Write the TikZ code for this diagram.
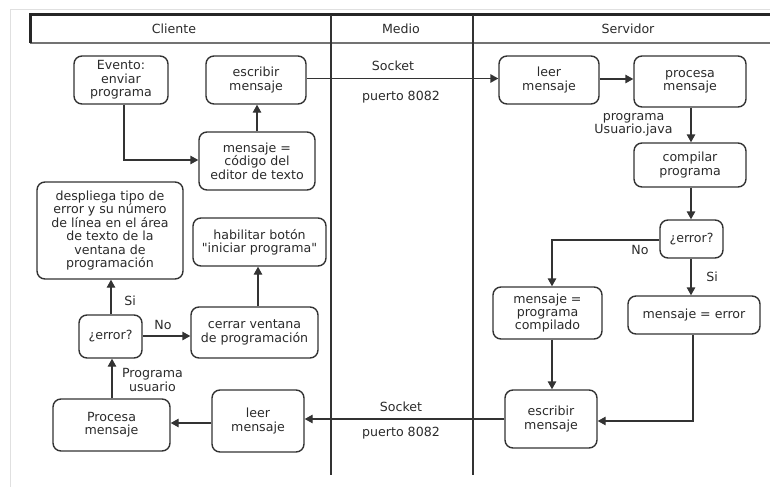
\documentclass[tikz,border=0pt]{standalone}
\usepackage{fontspec}
\setmainfont{DejaVu Sans}
\newfontfamily\plainq{DejaVu Sans}[Ligatures=TeXOff]
\usetikzlibrary{arrows.meta}
\definecolor{ln}{HTML}{333333}
\definecolor{tx}{HTML}{2a2a2a}
\tikzset{
  box/.style={draw=ln, line width=1.4pt, rounded corners=8pt, align=center, inner sep=0pt, text=tx, font=\fontsize{12.6}{13.4}\selectfont},
  conn/.style={draw=ln, line width=1.4pt, -{Triangle[length=8pt,width=8.5pt]}},
  lbl/.style={font=\fontsize{12.6}{13.2}\selectfont, align=center, text=tx, inner sep=0pt},
}
\begin{document}
\begin{tikzpicture}[x=1pt,y=-1pt]
\useasboundingbox (0,0) rectangle (770,487);
% faint frame
\draw[black!12, line width=1pt] (10,487) -- (10,9.5) -- (770,9.5);
% header
\draw[black!55, line width=2pt] (30,43) -- (770,43);
\draw[black!85, line width=3pt] (30,43) -- (30,15) -- (771,15);
\draw[black!80, line width=1.6pt] (331,15) -- (331,475);
\draw[black!80, line width=1.6pt] (473,15) -- (473,475);
\node[lbl] (hc) at (174,29) {Cliente};
\node[lbl] (hm) at (401,29) {Medio};
\node[lbl] (hs) at (628,29) {Servidor};

% client nodes
\node[box, minimum width=94pt, minimum height=48pt] (ev) at (121,80) {Evento:\\enviar\\programa};
\node[box, minimum width=100pt, minimum height=48pt] (ec) at (256,80) {escribir\\mensaje};
\node[box, minimum width=116pt, minimum height=58pt] (mc) at (257,161) {mensaje =\\código del\\editor de texto};
\node[box, minimum width=146pt, minimum height=97pt] (dt) at (110,230.5) {despliega tipo de\\error y su número\\de línea en el área\\de texto de la\\ventana de\\programación};
\node[box, minimum width=133pt, minimum height=48pt] (hb) at (259.5,242) {habilitar botón\\{\plainq"}iniciar programa{\plainq"}};
\node[box, minimum width=63pt, minimum height=43pt] (e1) at (110.5,336.5) {¿error?};
\node[box, minimum width=127pt, minimum height=51pt] (cv) at (254.5,332.5) {cerrar ventana\\de programación};
\node[box, minimum width=117pt, minimum height=52pt] (pm) at (111.5,425) {Procesa\\mensaje};
\node[box, minimum width=92pt, minimum height=62pt] (lc) at (258,421) {leer\\mensaje};

% server nodes
\node[box, minimum width=100pt, minimum height=48pt] (ls) at (549,80) {leer\\mensaje};
\node[box, minimum width=112pt, minimum height=51pt] (ps) at (690,81.5) {procesa\\mensaje};
\node[box, minimum width=112pt, minimum height=44pt] (cp) at (690,165) {compilar\\programa};
\node[box, minimum width=63pt, minimum height=38pt] (e2) at (691.5,239) {¿error?};
\node[box, minimum width=109pt, minimum height=52pt] (mp) at (547.5,313) {mensaje =\\programa\\compilado};
\node[box, minimum width=132pt, minimum height=38pt] (me) at (694,315) {mensaje = error};
\node[box, minimum width=92pt, minimum height=58pt] (es) at (551,419) {escribir\\mensaje};

% client connectors
\draw[conn] (ev.south -| 124,0) |- (mc.west |- 0,160);
\draw[conn] (mc.north -| 257,0) -- (ec.south -| 257,0);
\draw[conn] (e1.north -| 111,0) -- (dt.south -| 111,0);
\node[lbl] (si1) at (130,301) {Si};
\draw[conn] (e1.east |- 0,336) -- (cv.west |- 0,336);
\node[lbl] (no1) at (163,325) {No};
\draw[conn] (cv.north -| 258,0) -- (hb.south -| 258,0);
\draw[conn] (pm.north -| 112,0) -- (e1.south -| 112,0);
\node[lbl] (pu) at (152.5,380) {Programa\\usuario};
\draw[conn] (lc.west |- 0,423) -- (pm.east |- 0,423);

% medio connectors
\draw[conn] (ec.east |- 0,78.5) -- (ls.west |- 0,78.5);
\node[lbl] (sk1) at (393,66) {Socket};
\node[lbl] (pt1) at (401,97) {puerto 8082};
\draw[conn] (es.west |- 0,419) -- (lc.east |- 0,419);
\node[lbl] (sk2) at (401,407) {Socket};
\node[lbl] (pt2) at (401,433) {puerto 8082};

% server connectors
\draw[conn] (ls.east |- 0,79) -- (ps.west |- 0,79);
\draw[conn] (ps.south -| 691,0) -- (cp.north -| 691,0);
\node[lbl] (pj) at (633.5,124.5) {programa\\Usuario.java};
\draw[conn] (cp.south -| 691,0) -- (e2.north -| 691,0);
\draw[conn] (e2.west |- 0,240) -| (mp.north -| 552,0);
\node[lbl] (no2) at (640,250) {No};
\draw[conn] (e2.south -| 691,0) -- (me.north -| 691,0);
\node[lbl] (si2) at (712,277) {Si};
\draw[conn] (mp.south -| 552,0) -- (es.north -| 552,0);
\draw[conn] (me.south -| 693,0) |- (es.east |- 0,421);
\end{tikzpicture}
\end{document}
